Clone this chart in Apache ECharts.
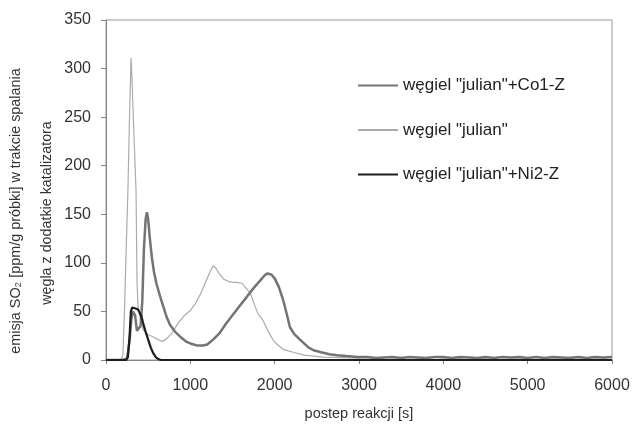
<!DOCTYPE html>
<html>
<head>
<meta charset="utf-8">
<script src="https://cdn.jsdelivr.net/npm/echarts/dist/echarts.min.js"></script>
<style>
  html, body { margin: 0; padding: 0; background: #fff; }
  #chart { width: 632px; height: 425px; }
</style>
</head>
<body>
<div id="chart"></div>
<script>
// czas [s] i emisja SO2
const seriesNames = ['węgiel "julian"+Co1-Z', 'węgiel "julian"', 'węgiel "julian"+Ni2-Z'];

const julianT = [0, 100, 180, 200, 215, 235, 260, 280, 297, 310, 330, 356, 368, 380, 400, 440, 500, 557, 620, 665,
  720, 783, 855, 920, 1000, 1060, 1120, 1180, 1230, 1270, 1300, 1350, 1400, 1450, 1500, 1550, 1615, 1650, 1710, 1760,
  1800, 1860, 1920, 1985, 2030, 2100, 2220, 2350, 2575, 2800, 3010,
  3100, 3200, 3300, 3400, 3500, 3600, 3700, 3800, 3900, 4000, 4100, 4200, 4300, 4400, 4500,
  4600, 4700, 4800, 4900, 5000, 5100, 5200, 5300, 5400, 5500, 5600, 5700, 5800, 5900, 6000];
const julianV = [0, 0, 1, 5, 40, 100, 175, 255, 311, 285, 235, 175, 80, 55, 45, 31, 26, 24, 21, 19,
  22, 28, 38, 45, 51, 58, 68, 80, 90, 97, 95, 88, 83, 81, 80, 80, 79, 75, 69, 57,
  48, 41, 30, 20, 16, 11, 8, 5, 3, 2.5, 2,
  2.5, 2, 3, 2.5, 2, 3, 2, 2.5, 3, 2, 2.5, 2, 3, 2.5, 2,
  2.5, 3, 2, 2.5, 2, 3, 2, 2.5, 2, 3, 2.5, 2, 2.5, 2, 3];

const co1T = [0, 200, 250, 280, 300, 320, 345, 367, 390, 410, 430, 450, 470, 485, 500, 520, 545, 570, 600, 640,
  680, 720, 760, 820, 880, 950, 1000, 1075, 1150, 1200, 1270, 1350, 1420, 1500, 1580, 1670, 1750, 1830, 1880, 1910,
  1960, 2000, 2050, 2100, 2150, 2180, 2230, 2300, 2400, 2460, 2550, 2650, 2740, 2850, 2980,
  3100, 3200, 3300, 3400, 3500, 3600, 3700, 3800, 3900, 4000, 4100, 4200, 4300, 4400, 4500,
  4600, 4700, 4800, 4900, 5000, 5100, 5200, 5300, 5400, 5500, 5600, 5700, 5800, 5900, 6000];
const co1V = [0, 0, 2, 20, 42, 50, 46, 30, 28, 35, 60, 115, 145, 152, 145, 125, 105, 90, 78, 66,
  55, 44, 36, 29, 24, 19, 17, 15, 15, 16, 21, 28, 37, 46, 55, 65, 74, 82, 87, 89,
  88, 84, 75, 62, 45, 34, 27, 21, 13, 10, 8, 6, 5, 4, 3,
  3, 2, 2.5, 3, 2, 3, 2.5, 2, 3, 3, 2, 3, 2.5, 2, 3,
  2, 3, 2.5, 3, 2, 3, 2, 3, 2.5, 2, 3, 2, 3, 2.5, 3];

const ni2T = [0, 240, 260, 280, 295, 310, 330, 350, 380, 400, 420, 440, 470, 500, 530, 560, 590, 620, 650, 6000];
const ni2V = [0, 0, 3, 25, 50, 54, 55, 53, 52, 50, 45, 38, 29, 21, 13, 7, 3, 1, 0, 0];

const xTicks = [0, 6000, 1000];   // min, max, interval
const yTicks = [0, 350, 50];

const pairs = (t, v) => t.map((x, i) => [x, v[i]]);

const chart = echarts.init(document.getElementById('chart'));
const font = '"Liberation Sans", Arial, sans-serif';

chart.setOption({
  animation: false,
  backgroundColor: '#fff',
  textStyle: { fontFamily: font },
  grid: {
    left: 106, right: 20, top: 20, bottom: 65,
    outerBoundsMode: 'none',
    show: true, borderColor: '#999', borderWidth: 1
  },
  legend: {
    orient: 'vertical',
    left: 352,
    top: 72,
    itemWidth: 40,
    itemHeight: 14,
    itemGap: 27.5,
    data: seriesNames,
    itemStyle: { opacity: 0 }, // tylko linia, bez kółka
    textStyle: { fontSize: 17, color: '#222', fontFamily: font }
  },
  xAxis: {
    type: 'value',
    min: xTicks[0], max: xTicks[1], interval: xTicks[2],
    name: 'postep reakcji [s]',
    nameLocation: 'middle',
    nameGap: 46,
    nameTextStyle: { fontSize: 14.5, color: '#333' },
    axisLine: { lineStyle: { color: '#888', width: 1 } },
    axisTick: { show: true, length: 4, lineStyle: { color: '#888' } },
    axisLabel: { fontSize: 16, color: '#333', margin: 18, formatter: v => String(v) },
    splitLine: { show: false }
  },
  yAxis: {
    type: 'value',
    min: yTicks[0], max: yTicks[1], interval: yTicks[2],
    axisLine: { show: true, lineStyle: { color: '#888', width: 1 } },
    axisTick: { show: true, length: 5, lineStyle: { color: '#888' } },
    axisLabel: { fontSize: 16, color: '#333', margin: 15, formatter: v => String(v) },
    splitLine: { show: false }
  },
  graphic: [
    {
      type: 'text', x: 16, y: 211, rotation: Math.PI / 2,
      style: {
        text: 'emisja SO₂ [ppm/g próbki] w trakcie spalania',
        fontSize: 14.4, fontFamily: font, fill: '#333',
        align: 'center', verticalAlign: 'middle'
      }
    },
    {
      type: 'text', x: 47, y: 213, rotation: Math.PI / 2,
      style: {
        text: 'węgla z dodatkie katalizatora',
        fontSize: 14.3, fontFamily: font, fill: '#333',
        align: 'center', verticalAlign: 'middle'
      }
    }
  ],
  series: [
    {
      name: seriesNames[1],
      type: 'line',
      symbol: 'none',
      data: pairs(julianT, julianV),
      lineStyle: { color: '#ababab', width: 1.2 },
      itemStyle: { color: '#ababab' }
    },
    {
      name: seriesNames[0],
      type: 'line',
      symbol: 'none',
      data: pairs(co1T, co1V),
      lineStyle: { color: '#747474', width: 2.5 },
      itemStyle: { color: '#747474' }
    },
    {
      name: seriesNames[2],
      type: 'line',
      symbol: 'none',
      data: pairs(ni2T, ni2V),
      lineStyle: { color: '#1e1e1e', width: 2.2 },
      itemStyle: { color: '#1e1e1e' }
    }
  ]
});
</script>
</body>
</html>
